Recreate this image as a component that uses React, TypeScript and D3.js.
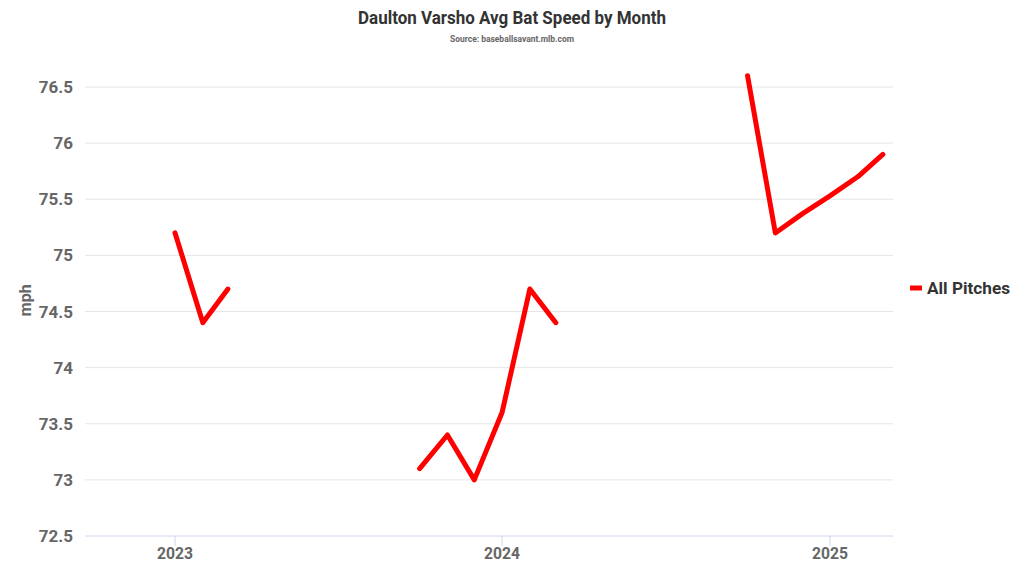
import React from "react";
import * as d3 from "d3";

const months: string[] = [
  "2023-01", "2023-02", "2023-03",
  "2023-10", "2023-11", "2023-12", "2024-01", "2024-02", "2024-03",
  "2024-10", "2024-11", "2024-12", "2025-01", "2025-02", "2025-03",
];
const batSpeed: number[] = [
  75.2, 74.4, 74.7,
  73.1, 73.4, 73.0, 73.6, 74.7, 74.4,
  76.6, 75.2, 75.37, 75.53, 75.7, 75.9,
];
const yTicks: number[] = [72.5, 73, 73.5, 74, 74.5, 75, 75.5, 76, 76.5];
const xTickYears: number[] = [2023, 2024, 2025];
const seriesName = "All Pitches";

const W = 1024;
const H = 576;
const FONT = "Roboto, 'Noto Sans', sans-serif";

export default function App() {
  const parse = d3.timeParse("%Y-%m");
  const pts = months.map((m, i) => ({ date: parse(m) as Date, v: batSpeed[i] }));

  const x = d3
    .scaleTime()
    .domain([new Date(2022, 8, 22, 12), new Date(2025, 2, 12, 8)])
    .range([85, 893]);
  const y = d3.scaleLinear().domain([72.5, 76.5]).range([536, 87]);

  // break into segments when months are not consecutive
  const segments: { date: Date; v: number }[][] = [];
  pts.forEach((p, i) => {
    if (i === 0 || d3.timeMonth.count(pts[i - 1].date, p.date) > 1) segments.push([]);
    segments[segments.length - 1].push(p);
  });

  const line = d3
    .line<{ date: Date; v: number }>()
    .x((d) => x(d.date))
    .y((d) => y(d.v));

  return (
    <svg
      width={W}
      height={H}
      style={{ position: "absolute", left: 0, top: 0, background: "#fff" }}
      fontFamily={FONT}
    >
      <rect width={W} height={H} fill="#fff" />
      <text
        x={512}
        y={24}
        textAnchor="middle"
        fontSize={18}
        fontWeight="bold"
        fill="#333"
        textLength={308}
        lengthAdjust="spacingAndGlyphs"
      >
        Daulton Varsho Avg Bat Speed by Month
      </text>
      <text
        x={512}
        y={42}
        textAnchor="middle"
        fontSize={9}
        fontWeight="bold"
        fill="#666"
        textLength={124}
        lengthAdjust="spacingAndGlyphs"
      >
        Source: baseballsavant.mlb.com
      </text>

      {yTicks.map((t) => (
        <g key={t}>
          {t !== 72.5 && (
            <line x1={85} x2={893} y1={y(t)} y2={y(t)} stroke="#e6e6e6" strokeWidth={1} />
          )}
          <text
            x={73}
            y={y(t) + 6}
            textAnchor="end"
            fontSize={17}
            fontWeight="bold"
            fill="#666"
          >
            {String(t)}
          </text>
        </g>
      ))}

      <line x1={85} x2={893} y1={536} y2={536} stroke="#ccd6eb" strokeWidth={1} />
      {xTickYears.map((yr) => {
        const xx = x(new Date(yr, 0, 1));
        return (
          <g key={yr}>
            <line x1={xx} x2={xx} y1={536} y2={546} stroke="#ccd6eb" strokeWidth={1} />
            <text
              x={xx}
              y={559}
              textAnchor="middle"
              fontSize={17}
              fontWeight="bold"
              fill="#666"
              textLength={36}
              lengthAdjust="spacingAndGlyphs"
            >
              {yr}
            </text>
          </g>
        );
      })}

      <text
        transform={`translate(31,${y(74.6)}) rotate(-90)`}
        textAnchor="middle"
        fontSize={16}
        fontWeight="bold"
        fill="#666"
      >
        mph
      </text>

      {segments.map((seg, i) => (
        <path
          key={i}
          d={line(seg) || ""}
          fill="none"
          stroke="#ff0000"
          strokeWidth={5}
          strokeLinecap="round"
          strokeLinejoin="round"
        />
      ))}

      <line x1={910} x2={922} y1={288} y2={288} stroke="#ff0000" strokeWidth={5} />
      <text
        x={927}
        y={294}
        fontSize={17}
        fontWeight="bold"
        fill="#333"
        textLength={83}
        lengthAdjust="spacingAndGlyphs"
      >
        {seriesName}
      </text>
    </svg>
  );
}
